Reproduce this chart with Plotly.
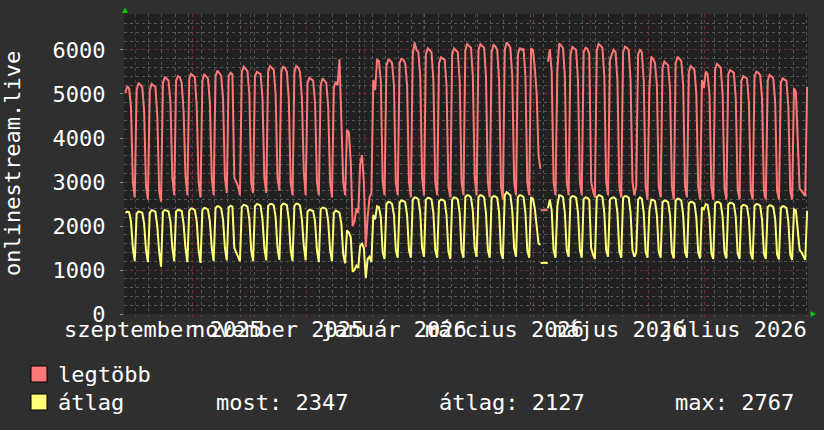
import plotly.graph_objects as go
import pandas as pd
import numpy as np

# ---------------- data (daily, weeks Monday..Sunday, from 2025-08-25) ----------------
first_monday = "2025-08-25"
series_names = ["legtöbb", "átlag"]
series_colors = ["#ff7878", "#ffff78"]

legtobb_weeks = [
    [None, 5020, 5180, 5120, 4700, 3000, 2650],
    [5100, 5240, 5210, 5150, 4600, 2900, 2600],
    [5080, 5227, 5200, 5160, 4500, 2800, 2550],
    [5250, 5378, 5350, 5300, 4800, 3100, 2700],
    [5300, 5409, 5380, 5250, 4600, 3150, 2700],
    [5350, 5454, 5420, 5380, 4700, 3000, 2650],
    [5300, 5454, 5400, 5350, 4800, 3100, 2700],
    [5400, 5530, 5480, 5420, 4900, 3100, 2750],
    [5400, 5484, 5450, 3100, 3000, 2900, 2700],
    [5500, 5620, 5580, 5520, 5000, 3000, 2750],
    [5400, 5500, 5480, 5450, 4900, 3100, 2750],
    [5500, 5636, 5600, 5550, 5000, 3100, 2800],
    [5500, 5620, 5590, 5500, 4900, 3000, 2700],
    [5500, 5636, 5600, 5500, 4900, 3230, 2700],
    [5250, 5371, 5330, 5300, 4800, 3000, 2700],
    [5200, 5356, 5300, 5250, 4700, 3000, 2650],
    [5150, 5280, 5200, 5788, 4600, 3000, 2700],
    [4180, 4130, 3460, 2000, 2100, 2400, 2300],
    [3400, 3610, 3000, 1520, 2200, 2650, 2750],
    [5318, 5090, 5770, 5750, 5300, 3000, 2700],
    [5650, 5780, 5760, 5700, 5200, 3000, 2700],
    [5700, 5800, 5780, 5700, 5200, 3000, 2650],
    [5900, 6170, 6000, 5950, 5400, 3100, 2700],
    [5900, 6038, 6000, 5950, 5300, 3000, 2700],
    [5700, 5833, 5800, 5780, 5200, 2900, 2650],
    [5900, 6038, 6000, 5950, 5300, 3000, 2700],
    [6000, 6136, 6100, 6050, 5400, 3100, 2700],
    [6000, 6136, 6100, 6050, 5400, 3000, 2650],
    [5950, 6114, 6080, 6000, 5300, 2900, 2600],
    [6000, 6170, 6120, 6050, 5400, 3000, 2700],
    [5900, 6050, 6000, 6030, 5400, 3000, 2700],
    [6038, 6000, 5590, 5000, 3600, 3300, None],
    [2360, None, 5735, 6015, 5500, 3000, 2700],
    [5545, 6150, 6100, 6050, 5400, 3000, 2700],
    [5900, 6068, 6038, 6000, 5300, 3000, 2700],
    [5950, 6048, 6030, 5900, 3000, 2800, 2650],
    [6000, 6136, 6100, 6050, 5400, 3000, 2700],
    [5785, 5900, 6000, 5950, 5300, 2900, 2650],
    [5950, 6075, 6050, 6000, 5300, 3000, 2700],
    [2900, 5900, 6000, 5950, 5300, 2900, 2600],
    [5100, 5848, 5800, 5700, 5200, 2900, 2650],
    [5600, 5735, 5700, 5650, 5100, 2900, 2600],
    [5700, 5848, 5800, 5750, 5200, 2900, 2650],
    [5500, 5636, 5600, 5550, 5000, 2900, 2600],
    [5318, 5136, 5507, 5450, 5000, 2900, 2600],
    [5550, 5682, 5650, 5600, 5000, 2850, 2600],
    [5450, 5545, 5520, 5480, 4900, 2850, 2600],
    [5300, 5409, 5380, 5350, 4800, 2800, 2600],
    [5400, 5507, 5480, 5430, 4900, 2800, 2600],
    [5300, 5432, 5400, 5350, 4800, 2800, 2600],
    [5250, 5356, 5330, 5300, 4700, 2800, 2600],
    [5129, 5050, 4000, 2850, 2800, 2750, 2680],
    [5160],
]

atlag_weeks = [
    [None, 2300, 2325, 2310, 2100, 1500, 1200],
    [2280, 2330, 2320, 2300, 2050, 1450, 1180],
    [2300, 2360, 2350, 2320, 2000, 1400, 1075],
    [2320, 2365, 2350, 2330, 2100, 1500, 1200],
    [2330, 2370, 2360, 2340, 2050, 1500, 1180],
    [2350, 2400, 2390, 2360, 2100, 1450, 1160],
    [2360, 2410, 2400, 2370, 2100, 1500, 1200],
    [2400, 2450, 2440, 2400, 2150, 1500, 1220],
    [2420, 2460, 2440, 1500, 1400, 1300, 1200],
    [2430, 2480, 2470, 2440, 2150, 1450, 1200],
    [2450, 2500, 2490, 2460, 2150, 1500, 1220],
    [2450, 2500, 2500, 2470, 2200, 1500, 1230],
    [2460, 2510, 2500, 2470, 2150, 1450, 1200],
    [2460, 2510, 2500, 2460, 2150, 1550, 1220],
    [2330, 2370, 2360, 2340, 2100, 1450, 1180],
    [2380, 2420, 2410, 2380, 2100, 1450, 1200],
    [2300, 2350, 2330, 2300, 2050, 1350, 1150],
    [1900, 1850, 1750, 960, 1000, 1100, 1050],
    [1550, 1600, 1500, 820, 1250, 1300, 1180],
    [2250, 2150, 2450, 2430, 2200, 1400, 1250],
    [2500, 2550, 2540, 2500, 2250, 1450, 1280],
    [2530, 2580, 2570, 2540, 2250, 1450, 1280],
    [2600, 2650, 2640, 2600, 2300, 1500, 1300],
    [2600, 2640, 2630, 2600, 2300, 1450, 1280],
    [2560, 2600, 2590, 2560, 2250, 1420, 1250],
    [2600, 2650, 2640, 2600, 2300, 1450, 1280],
    [2650, 2700, 2690, 2650, 2350, 1500, 1300],
    [2650, 2700, 2690, 2650, 2300, 1450, 1280],
    [2640, 2680, 2670, 2640, 2300, 1400, 1250],
    [2700, 2767, 2740, 2700, 2350, 1500, 1300],
    [2650, 2700, 2690, 2660, 2300, 1450, 1280],
    [2650, 2620, 2400, 2000, 1600, 1570, None],
    [1160, None, 2400, 2600, 2350, 1450, 1280],
    [2450, 2700, 2690, 2660, 2300, 1450, 1300],
    [2640, 2680, 2670, 2640, 2300, 1450, 1280],
    [2610, 2650, 2640, 2600, 1500, 1350, 1250],
    [2650, 2700, 2690, 2660, 2300, 1450, 1300],
    [2600, 2640, 2650, 2620, 2300, 1420, 1280],
    [2640, 2680, 2670, 2640, 2300, 1450, 1300],
    [1400, 2600, 2650, 2620, 2300, 1420, 1280],
    [2350, 2600, 2590, 2560, 2250, 1420, 1280],
    [2540, 2580, 2570, 2540, 2250, 1400, 1260],
    [2580, 2620, 2610, 2580, 2250, 1420, 1280],
    [2510, 2550, 2540, 2510, 2200, 1400, 1260],
    [2420, 2380, 2500, 2480, 2200, 1380, 1250],
    [2510, 2550, 2540, 2510, 2200, 1400, 1260],
    [2490, 2530, 2520, 2490, 2200, 1380, 1250],
    [2440, 2480, 2470, 2440, 2150, 1380, 1240],
    [2460, 2500, 2490, 2460, 2150, 1380, 1250],
    [2430, 2470, 2460, 2430, 2150, 1350, 1240],
    [2410, 2450, 2440, 2410, 2100, 1350, 1230],
    [2380, 2360, 1900, 1450, 1400, 1300, 1230],
    [2347],
]

x_range = ["2025-08-25 18:30", "2026-08-24 23:00"]
y_range = [0, 6818]
month_label_dates = ["2025-09-16", "2025-11-16", "2026-01-16 12:00",
                     "2026-03-16 12:00", "2026-05-16 12:00", "2026-07-16 12:00"]
month_label_texts = ["szeptember 2025", "november 2025", "január 2026",
                     "március 2026", "május 2026", "július 2026"]
y_title = "onlinestream.live"
stat_labels = ["most:", "átlag:", "max:"]
stat_values = [2347, 2127, 2767]

# ---------------- build ----------------
def flatten(weeks):
    return [v for w in weeks for v in w]

leg_vals = np.array([np.nan if v is None else v for v in flatten(legtobb_weeks)], dtype=float)
atl_vals = np.array([np.nan if v is None else v for v in flatten(atlag_weeks)], dtype=float)
dates = pd.date_range(first_monday, periods=len(leg_vals), freq="D") + pd.Timedelta(hours=12)

FONT = "DejaVu Sans Mono"
FS = 22
fig = go.Figure()

def isolated(vals):
    m = ~np.isnan(vals)
    prev = np.r_[False, m[:-1]]
    nxt = np.r_[m[1:], False]
    return m & ~prev & ~nxt

for vals, name, col in [(leg_vals, series_names[0], series_colors[0]),
                        (atl_vals, series_names[1], series_colors[1])]:
    fig.add_trace(go.Scatter(x=dates, y=vals, mode="lines", name=name,
                             line=dict(color=col, width=2), connectgaps=False,
                             hoverinfo="skip"))
    iso = isolated(vals)
    fig.add_trace(go.Scatter(x=dates[iso], y=vals[iso], mode="markers",
                             marker=dict(symbol="line-ew", size=5,
                                         line=dict(color=col, width=2)),
                             hoverinfo="skip", showlegend=False))

major_grid = "rgba(125,48,48,0.9)"
minor_grid = "rgba(90,90,90,0.9)"

fig.update_layout(
    width=824, height=430,
    margin=dict(l=124, r=16, t=14, b=116),
    paper_bgcolor="#2f2f2f", plot_bgcolor="#212121",
    showlegend=False,
    font=dict(family=FONT, size=FS, color="#ffffff"),
    xaxis=dict(type="date", range=x_range, showticklabels=False,
               dtick="M1", tick0="2025-09-01", showgrid=True,
               gridcolor=major_grid, griddash="dot", gridwidth=1,
               ticks="outside", ticklen=3, tickcolor=major_grid,
               minor=dict(dtick=7 * 86400000, tick0="2025-09-01", showgrid=True,
                          gridcolor=minor_grid, griddash="dot", gridwidth=1,
                          ticks="outside", ticklen=2, tickcolor=minor_grid),
               zeroline=False, showline=False, fixedrange=True),
    yaxis=dict(range=y_range, dtick=1000, tick0=0, showgrid=True,
               gridcolor=major_grid, griddash="dot", gridwidth=1,
               ticks="outside", ticklen=3, tickcolor="#888888",
               ticklabelstandoff=10,
               tickfont=dict(family=FONT, size=FS, color="#ffffff"),
               minor=dict(dtick=200, showgrid=True, gridcolor=minor_grid,
                          griddash="dot", gridwidth=1),
               zeroline=False, showline=False, fixedrange=True),
)

W, H, L, T = 684.0, 300.0, 124.0, 14.0
def px(x):
    return (x - L) / W
def py(y):
    return (T + H - y) / H

# month labels (positioned on the x axis scale)
for d, t in zip(month_label_dates, month_label_texts):
    fig.add_annotation(x=d, xref="x", y=py(330), yref="paper", text=t,
                       showarrow=False, xanchor="center", yanchor="middle",
                       font=dict(family=FONT, size=FS, color="#ffffff"))

# y title
fig.add_annotation(x=px(12), xref="paper", y=0.5, yref="paper", text=y_title,
                   textangle=-90, showarrow=False, xanchor="center", yanchor="middle",
                   font=dict(family=FONT, size=FS, color="#ffffff"))

# legend
rows_y = [374, 402]
for i, (name, col) in enumerate(zip(series_names, series_colors)):
    yc = rows_y[i]
    fig.add_shape(type="rect", xref="paper", yref="paper",
                  x0=px(31), x1=px(47), y0=py(yc + 8), y1=py(yc - 8),
                  fillcolor=col, line=dict(color="#000000", width=1))
    fig.add_annotation(x=px(56), xref="paper", y=py(yc), yref="paper", text=name,
                       showarrow=False, xanchor="left", yanchor="middle",
                       font=dict(family=FONT, size=FS, color="#ffffff"))
stat_x = [214, 437, 673]
for sx, lab, val in zip(stat_x, stat_labels, stat_values):
    fig.add_annotation(x=px(sx), xref="paper", y=py(rows_y[1]), yref="paper",
                       text=f"{lab} {val}", showarrow=False, xanchor="left",
                       yanchor="middle", font=dict(family=FONT, size=FS, color="#ffffff"))

# green axis arrows
fig.add_shape(type="path", xref="paper", yref="paper",
              path=f"M {px(122)} {py(13)} L {px(128)} {py(13)} L {px(125)} {py(7.5)} Z",
              fillcolor="#00cc00", line=dict(color="#00cc00", width=0))
fig.add_shape(type="path", xref="paper", yref="paper",
              path=f"M {px(810.5)} {py(311)} L {px(810.5)} {py(317)} L {px(816)} {py(314)} Z",
              fillcolor="#00cc00", line=dict(color="#00cc00", width=0))

fig.write_html("out.html", config={"displayModeBar": False},
               post_script="document.body.style.margin='0px';")
